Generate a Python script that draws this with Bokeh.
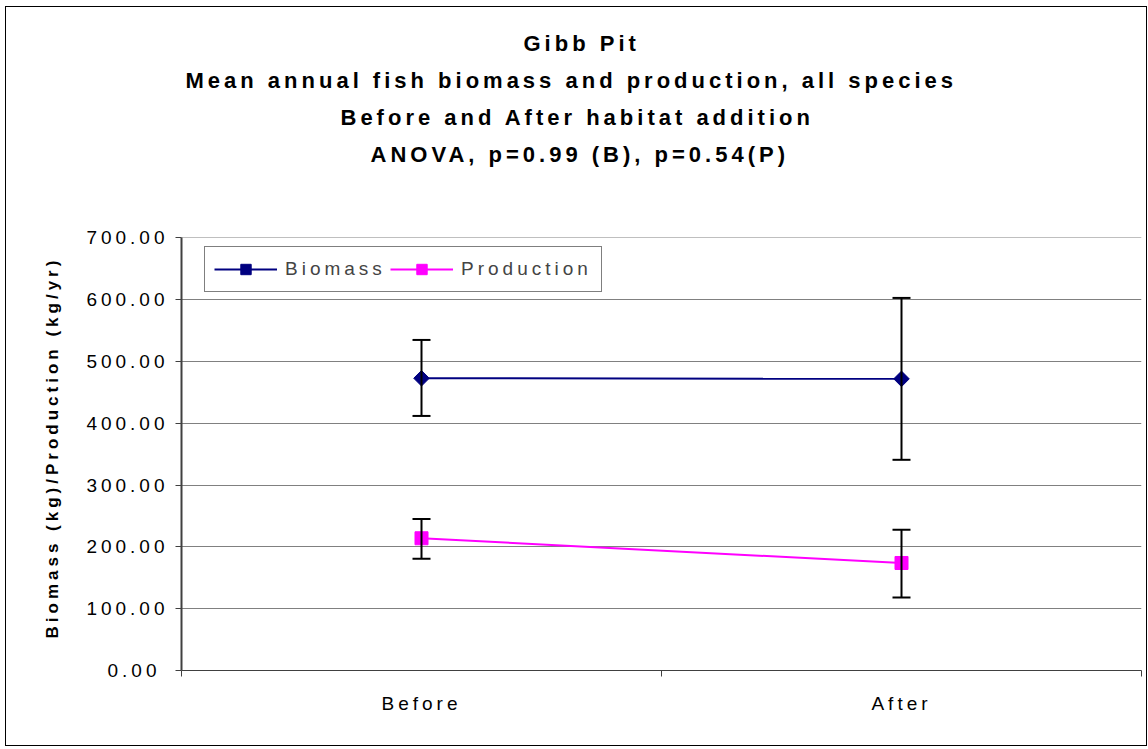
import math
from bokeh.plotting import figure
from bokeh.models import (Range1d, FixedTicker, Whisker, TeeHead, ColumnDataSource,
                          Legend, LegendItem, Title, InlineStyleSheet)
from bokeh.embed import file_html
from bokeh.resources import INLINE

categories = ["Before", "After"]
biomass = [473.0, 472.0]
biomass_low = [412.0, 341.0]
biomass_high = [535.0, 603.0]
production = [214.0, 174.0]
production_low = [181.0, 118.0]
production_high = [245.0, 228.0]
y_ticks = [0, 100, 200, 300, 400, 500, 600, 700]
title_lines = [
    "Gibb Pit",
    "Mean annual fish biomass and production, all species",
    "Before and After habitat addition",
    "ANOVA, p=0.99 (B), p=0.54(P)",
]
y_label = "Biomass (kg)/Production (kg/yr)"

W, H = 1140, 738
FRAME_W = 960
SPACING = 4  # css letter spacing, px
xpos = [i + 0.5 for i in range(len(categories))]
# label anchor shifted to compensate for css letter spacing
units_per_px = len(categories) / FRAME_W
xlab = [x - (SPACING * len(c) / 2) * units_per_px for x, c in zip(xpos, categories)]

FONT = "Liberation Sans"
p = figure(width=W, height=H, output_backend="svg", toolbar_location=None,
           x_range=Range1d(0, len(categories)), y_range=Range1d(0, 700.8),
           min_border_left=175, min_border_right=5, min_border_top=230,
           min_border_bottom=75)
p.outline_line_color = None
p.background_fill_color = "white"
p.border_fill_color = "white"
p.stylesheets = [InlineStyleSheet(css=(
    ":host { margin: 7px 0 0 6px; outline: 1px solid black; outline-offset: 0px;"
    f" letter-spacing: {SPACING}px; }}"))]

# axes
p.xaxis.ticker = FixedTicker(ticks=xlab, minor_ticks=[0, 1, 2])
p.xaxis.major_label_overrides = {x: c for x, c in zip(xlab, categories)}
p.xaxis.major_tick_out = 0
p.xaxis.major_tick_in = 0
p.xaxis.minor_tick_out = 6
p.xaxis.minor_tick_in = 0
p.xaxis.minor_tick_line_color = "#404040"
p.xaxis.axis_line_color = "#404040"
p.xaxis.major_label_text_font = FONT
p.xaxis.major_label_text_font_size = "19px"
p.xaxis.major_label_text_color = "black"
p.xaxis.major_label_standoff = 16

p.yaxis.ticker = FixedTicker(ticks=y_ticks, minor_ticks=[])
p.yaxis.major_label_overrides = {t: f"{t:.2f}" for t in y_ticks}
p.yaxis.major_tick_out = 6
p.yaxis.major_tick_in = 0
p.yaxis.major_tick_line_color = "#404040"
p.yaxis.axis_line_color = "#404040"
p.yaxis.axis_line_width = 2
p.yaxis.major_label_text_font = FONT
p.yaxis.major_label_text_font_size = "19px"
p.yaxis.major_label_text_color = "black"
p.yaxis.major_label_standoff = 31

p.xgrid.grid_line_color = None
p.ygrid.ticker = FixedTicker(ticks=y_ticks[1:])
p.ygrid.grid_line_color = "#808080"
p.ygrid.grid_line_width = 1

# y axis title as a left-side title (anchored at its start), with a small spacer
p.add_layout(Title(text=" ", text_font_size="4px"), "left")
p.add_layout(Title(text=y_label, align="left", offset=32,
                   text_font=FONT, text_font_size="17px",
                   text_font_style="bold", text_color="black"), "left")

# error bars
for lo, hi in [(biomass_low, biomass_high), (production_low, production_high)]:
    src = ColumnDataSource(dict(x=xpos, lower=lo, upper=hi))
    w = Whisker(source=src, base="x", lower="lower", upper="upper",
                line_color="black", line_width=2, level="glyph",
                upper_head=TeeHead(size=18, line_width=2, line_color="black"),
                lower_head=TeeHead(size=18, line_width=2, line_color="black"))
    p.add_layout(w)

bl = p.line(xpos, biomass, line_color="#000080", line_width=2)
bm = p.scatter(xpos, biomass, marker="square", angle=math.pi / 4, size=11,
               fill_color="#000080", line_color="#000080")
pl = p.line(xpos, production, line_color="#FF00FF", line_width=2)
pm = p.scatter(xpos, production, marker="square", size=13, fill_color="#FF00FF",
               line_color="#FF00FF")

legend = Legend(items=[LegendItem(label="Biomass", renderers=[bl, bm]),
                       LegendItem(label="Production", renderers=[pl, pm])],
                orientation="horizontal", location=(23, 378),
                border_line_color="black", border_line_width=1,
                background_fill_color="white", background_fill_alpha=1,
                label_text_font=FONT, label_text_font_size="19px",
                glyph_width=63, glyph_height=26, spacing=0, padding=9,
                label_standoff=8, label_width=105, margin=0)
p.add_layout(legend, "center")

# title lines, stacked outward from the frame (last line nearest)
title_offsets = [342, 4, 159, 189]
p.add_layout(Title(text=" ", text_font_size="49px"), "above")
for line, off in reversed(list(zip(title_lines, title_offsets))):
    p.add_layout(Title(text=line, align="left", offset=off,
                       text_font=FONT, text_font_size="22px",
                       text_font_style="bold", text_color="black"), "above")

open("out.html", "w").write(file_html(p, INLINE))
